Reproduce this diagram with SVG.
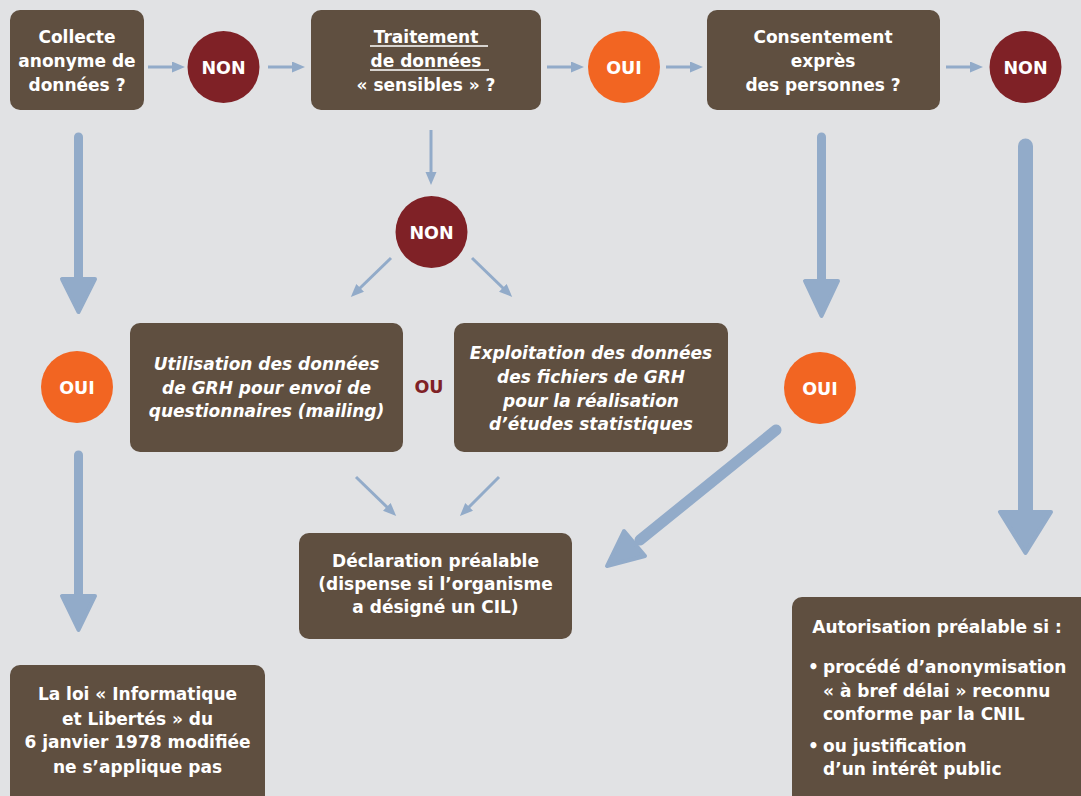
<svg xmlns="http://www.w3.org/2000/svg" width="1081" height="796" viewBox="0 0 1081 796">
<defs>
<marker id="ah" markerUnits="userSpaceOnUse" markerWidth="14" markerHeight="12" refX="3" refY="5.5" orient="auto">
<path d="M0,0 L13,5.5 L0,11 z" fill="#92abc9"/>
</marker>
<style>
.bg{fill:#e1e2e4}
.box{fill:#5f4f40}
.non{fill:#7f2126}
.oui{fill:#f26522}
.t{font-family:"DejaVu Sans","Liberation Sans",sans-serif;font-weight:bold;font-size:17px;fill:#fff;text-anchor:middle}
.ti{font-style:italic}
.tl{text-anchor:start}
.c{font-family:"DejaVu Sans","Liberation Sans",sans-serif;font-weight:bold;font-size:17.5px;fill:#fff;text-anchor:middle}
.thin{stroke:#92abc9;stroke-width:3;fill:none;marker-end:url(#ah)}
.shaft{stroke:#92abc9;stroke-linecap:round;fill:none}
.head{fill:#92abc9;stroke:#92abc9;stroke-width:4;stroke-linejoin:round}
.ul{stroke:#fff;stroke-width:1.5}
</style>
</defs>
<rect class="bg" x="0" y="0" width="1081" height="796"/>

<g id="connectors">
<line class="thin" x1="148" y1="67" x2="175" y2="67"/>
<line class="thin" x1="268" y1="67" x2="295" y2="67"/>
<line class="thin" x1="547" y1="67" x2="574" y2="67"/>
<line class="thin" x1="666" y1="67" x2="693" y2="67"/>
<line class="thin" x1="946" y1="67" x2="973" y2="67"/>
<line class="thin" x1="431" y1="130" x2="431" y2="175"/>
<line class="thin" x1="391" y1="258" x2="358" y2="290"/>
<line class="thin" x1="472" y1="258" x2="505" y2="290"/>
<line class="thin" x1="356" y1="477" x2="389" y2="509"/>
<line class="thin" x1="499" y1="477" x2="467" y2="509"/>
<line class="shaft" stroke-width="9" x1="78.5" y1="137" x2="78.5" y2="282"/>
<polygon class="head" points="62,279 95,279 78.5,312"/>
<line class="shaft" stroke-width="9" x1="78.5" y1="455" x2="78.5" y2="598"/>
<polygon class="head" points="62,596 95,596 78.5,630"/>
<line class="shaft" stroke-width="9" x1="821.5" y1="137" x2="821.5" y2="284"/>
<polygon class="head" points="805,281 838,281 821.5,316"/>
<line class="shaft" stroke-width="15" x1="1025.5" y1="146" x2="1025.5" y2="515"/>
<polygon class="head" points="1000,512 1051,512 1025.5,553"/>
<line class="shaft" stroke-width="11" x1="776" y1="430" x2="640" y2="540"/>
<polygon class="head" points="645,556 624,531 607,566"/>
</g>

<g id="collecte">
<rect class="box" x="10" y="10" width="134" height="100" rx="10"/>
<text class="t" x="77" y="43">Collecte</text>
<text class="t" x="77" y="67">anonyme de</text>
<text class="t" x="77" y="91">données ?</text>
</g>
<g id="non1"><circle class="non" cx="223.5" cy="67" r="36"/><text class="c" x="223.5" y="73.5">NON</text></g>
<g id="traitement">
<rect class="box" x="311" y="10" width="230" height="100" rx="10"/>
<text class="t" x="426" y="43">Traitement </text>
<line class="ul" x1="370" y1="46" x2="488" y2="46"/>
<text class="t" x="426" y="67">de données </text>
<line class="ul" x1="370" y1="70" x2="489" y2="70"/>
<text class="t" x="426" y="91">« sensibles » ?</text>
</g>
<g id="oui1"><circle class="oui" cx="624" cy="67" r="36"/><text class="c" x="624" y="73.5">OUI</text></g>
<g id="consentement">
<rect class="box" x="707" y="10" width="233" height="100" rx="10"/>
<text class="t" x="823" y="43">Consentement</text>
<text class="t" x="823" y="67">exprès</text>
<text class="t" x="823" y="91">des personnes ?</text>
</g>
<g id="non3"><circle class="non" cx="1025.5" cy="67" r="36"/><text class="c" x="1025.5" y="73.5">NON</text></g>

<g id="non2"><circle class="non" cx="431.5" cy="232" r="36"/><text class="c" x="431.5" y="238.5">NON</text></g>

<g id="oui2"><circle class="oui" cx="77" cy="387" r="36"/><text class="c" x="77" y="393.5">OUI</text></g>
<g id="utilisation">
<rect class="box" x="130" y="323" width="273" height="129" rx="10"/>
<text class="t ti" x="266.5" y="370">Utilisation des données</text>
<text class="t ti" x="266.5" y="394">de GRH pour envoi de</text>
<text class="t ti" x="266.5" y="417">questionnaires (mailing)</text>
</g>
<g id="ou"><text class="c" x="429" y="393" style="fill:#7f2126">OU</text></g>
<g id="exploitation">
<rect class="box" x="454" y="323" width="274" height="129" rx="10"/>
<text class="t ti" x="591" y="359">Exploitation des données</text>
<text class="t ti" x="591" y="383">des fichiers de GRH</text>
<text class="t ti" x="591" y="407">pour la réalisation</text>
<text class="t ti" x="591" y="430">d’études statistiques</text>
</g>
<g id="oui3"><circle class="oui" cx="820" cy="388" r="36"/><text class="c" x="820" y="394.5">OUI</text></g>

<g id="declaration">
<rect class="box" x="299" y="533" width="273" height="106" rx="10"/>
<text class="t" x="435.5" y="567">Déclaration préalable</text>
<text class="t" x="435.5" y="590">(dispense si l’organisme</text>
<text class="t" x="435.5" y="613">a désigné un CIL)</text>
</g>

<g id="loi">
<rect class="box" x="10" y="665" width="255" height="140" rx="10"/>
<text class="t" x="137.5" y="700">La loi « Informatique</text>
<text class="t" x="137.5" y="725">et Libertés » du</text>
<text class="t" x="137.5" y="748">6 janvier 1978 modifiée</text>
<text class="t" x="137.5" y="773">ne s’applique pas</text>
</g>

<g id="autorisation">
<rect class="box" x="792" y="597" width="300" height="210" rx="10"/>
<text class="t" x="937" y="633">Autorisation préalable si :</text>
<text class="t tl" x="808" y="673">•</text>
<text class="t tl" x="823" y="673">procédé d’anonymisation</text>
<text class="t tl" x="823" y="697">« à bref délai » reconnu</text>
<text class="t tl" x="823" y="720">conforme par la CNIL</text>
<text class="t tl" x="808" y="752">•</text>
<text class="t tl" x="823" y="752">ou justification</text>
<text class="t tl" x="823" y="775">d’un intérêt public</text>
</g>
</svg>
